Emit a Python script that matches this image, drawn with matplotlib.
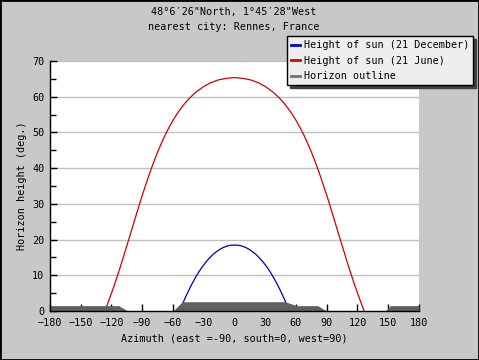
import matplotlib
matplotlib.use("Agg")
import matplotlib.pyplot as plt
from matplotlib.patches import Rectangle
from matplotlib.lines import Line2D

plt.rcParams['font.family'] = ['DejaVu Sans Mono', 'DejaVu Sans']

# Sun path, 21 December (azimuth deg, elevation deg)
dec_az = [-53.5, -52.6, -49.8, -46.9, -43.9, -40.9, -37.8, -34.7, -31.5, -28.2,
          -24.8, -21.4, -17.9, -14.4, -10.8, -7.2, -3.6, 0.0,
          3.6, 7.2, 10.8, 14.4, 17.9, 21.4, 24.8, 28.2, 31.5,
          34.7, 37.8, 40.9, 43.9, 46.9, 49.8, 52.6, 53.5]
dec_h = [0.0, 0.62, 2.57, 4.44, 6.23, 7.92, 9.51, 10.99, 12.36, 13.60,
         14.72, 15.71, 16.55, 17.25, 17.80, 18.19, 18.43, 18.45,
         18.43, 18.19, 17.80, 17.25, 16.55, 15.71, 14.72, 13.60, 12.36,
         10.99, 9.51, 7.92, 6.23, 4.44, 2.57, 0.62, 0.0]

# Sun path, 21 June
jun_az = [-126.5, -124.6, -121.9, -119.2, -116.5, -113.9, -111.3, -108.7, -106.2,
          -103.6, -101.0, -98.4, -95.75, -93.1, -90.4, -87.5, -84.6, -81.6,
          -78.4, -75.1, -71.5, -67.8, -63.7, -59.4, -54.7, -49.5, -43.9,
          -37.8, -31.1, -23.9, -16.3, -8.2, 0.0,
          8.2, 16.3, 23.9, 31.1, 37.8, 43.9, 49.5, 54.7, 59.4, 63.7,
          67.8, 71.5, 75.1, 78.4, 81.6, 84.6, 87.5, 90.4, 93.1, 95.75,
          98.4, 101.0, 103.6, 106.2, 108.7, 111.3, 113.9, 116.5, 119.2,
          121.9, 124.6, 126.5]
jun_h = [0.0, 1.41, 3.51, 5.67, 7.89, 10.15, 12.46, 14.82, 17.21,
         19.63, 22.08, 24.55, 27.04, 29.54, 32.05, 34.55, 37.06, 39.54,
         42.01, 44.45, 46.85, 49.2, 51.49, 53.69, 55.8, 57.78, 59.6,
         61.24, 62.66, 63.83, 64.67, 65.13, 65.37,
         65.13, 64.67, 63.83, 62.66, 61.24, 59.6, 57.78, 55.8, 53.69, 51.49,
         49.2, 46.85, 44.45, 42.01, 39.54, 37.06, 34.55, 32.05, 29.54, 27.04,
         24.55, 22.08, 19.63, 17.21, 14.82, 12.46, 10.15, 7.89, 5.67,
         3.51, 1.41, 0.0]

# Horizon outline
hor_az = [-180, -113, -104, -60, -51, 49, 61, 81, 90, 147, 152, 180]
hor_h = [1.5, 1.5, 0.0, 0.0, 2.6, 2.6, 1.5, 1.5, 0.0, 0.0, 1.5, 1.5]

x_ticks = [-180, -150, -120, -90, -60, -30, 0, 30, 60, 90, 120, 150, 180]
y_ticks = [0, 10, 20, 30, 40, 50, 60, 70]

title = "48°6′26\"North, 1°45′28\"West\nnearest city: Rennes, France"
legend_labels = ["Height of sun (21 December)", "Height of sun (21 June)", "Horizon outline"]

fig = plt.figure(figsize=(4.79, 3.60), dpi=100, facecolor='#c8c8c8')
ax = fig.add_axes([50/479, 1-311/360, 369/479, 250/360])
ax.set_facecolor('white')

for y in y_ticks[1:]:
    ax.axhline(y, color='#c0c0c0', lw=1, zorder=1)

ax.plot(dec_az, dec_h, color='#0000b4', lw=0.9, zorder=3)
ax.plot(jun_az, jun_h, color='#d00000', lw=0.9, zorder=3)
ax.fill_between(hor_az, 0, hor_h, color='#606060', lw=0, zorder=4)

ax.set_xlim(-180, 180)
ax.set_ylim(0, 70)
ax.set_xticks(x_ticks)
ax.set_yticks(y_ticks)
ax.set_yticks(list(range(5, 70, 10)), minor=True)
ax.tick_params(direction='in', length=5, width=1, labelsize=7.3, color='black')
ax.tick_params(which='minor', direction='in', length=4, width=1)
ax.tick_params(axis='x', pad=5)
ax.tick_params(axis='y', pad=4)
ax.spines['top'].set_visible(False)
ax.spines['right'].set_visible(False)
for s in ('left', 'bottom'):
    ax.spines[s].set_linewidth(1)
    ax.spines[s].set_zorder(5)

ax.set_xlabel("Azimuth (east =-90, south=0, west=90)", fontsize=7.3, labelpad=4)
ax.set_ylabel("Horizon height (deg.)", fontsize=7.3, labelpad=4)

fig.text(234/479, 1-7/360, title, ha='center', va='top', fontsize=7.3, linespacing=1.65)

handles = [Line2D([], [], color='#0000d0', lw=2),
           Line2D([], [], color='#e00000', lw=2),
           Line2D([], [], color='#707070', lw=2)]
leg = fig.legend(handles, legend_labels, loc='upper left',
                 bbox_to_anchor=(287/479, 1-36/360), bbox_transform=fig.transFigure,
                 borderaxespad=0, fontsize=7.3, frameon=True, fancybox=False,
                 shadow={'color': '#404040', 'alpha': 1.0}, edgecolor='black', facecolor='#eeeeee',
                 framealpha=1, handlelength=0.9, handletextpad=0.35, labelspacing=0.55,
                 borderpad=0.4)
leg.get_frame().set_linewidth(1)

fig.add_artist(Rectangle((0, 0), 1, 1, transform=fig.transFigure, fill=False,
                         edgecolor='black', lw=2))

fig.savefig('out.png', dpi=100, facecolor=fig.get_facecolor())
